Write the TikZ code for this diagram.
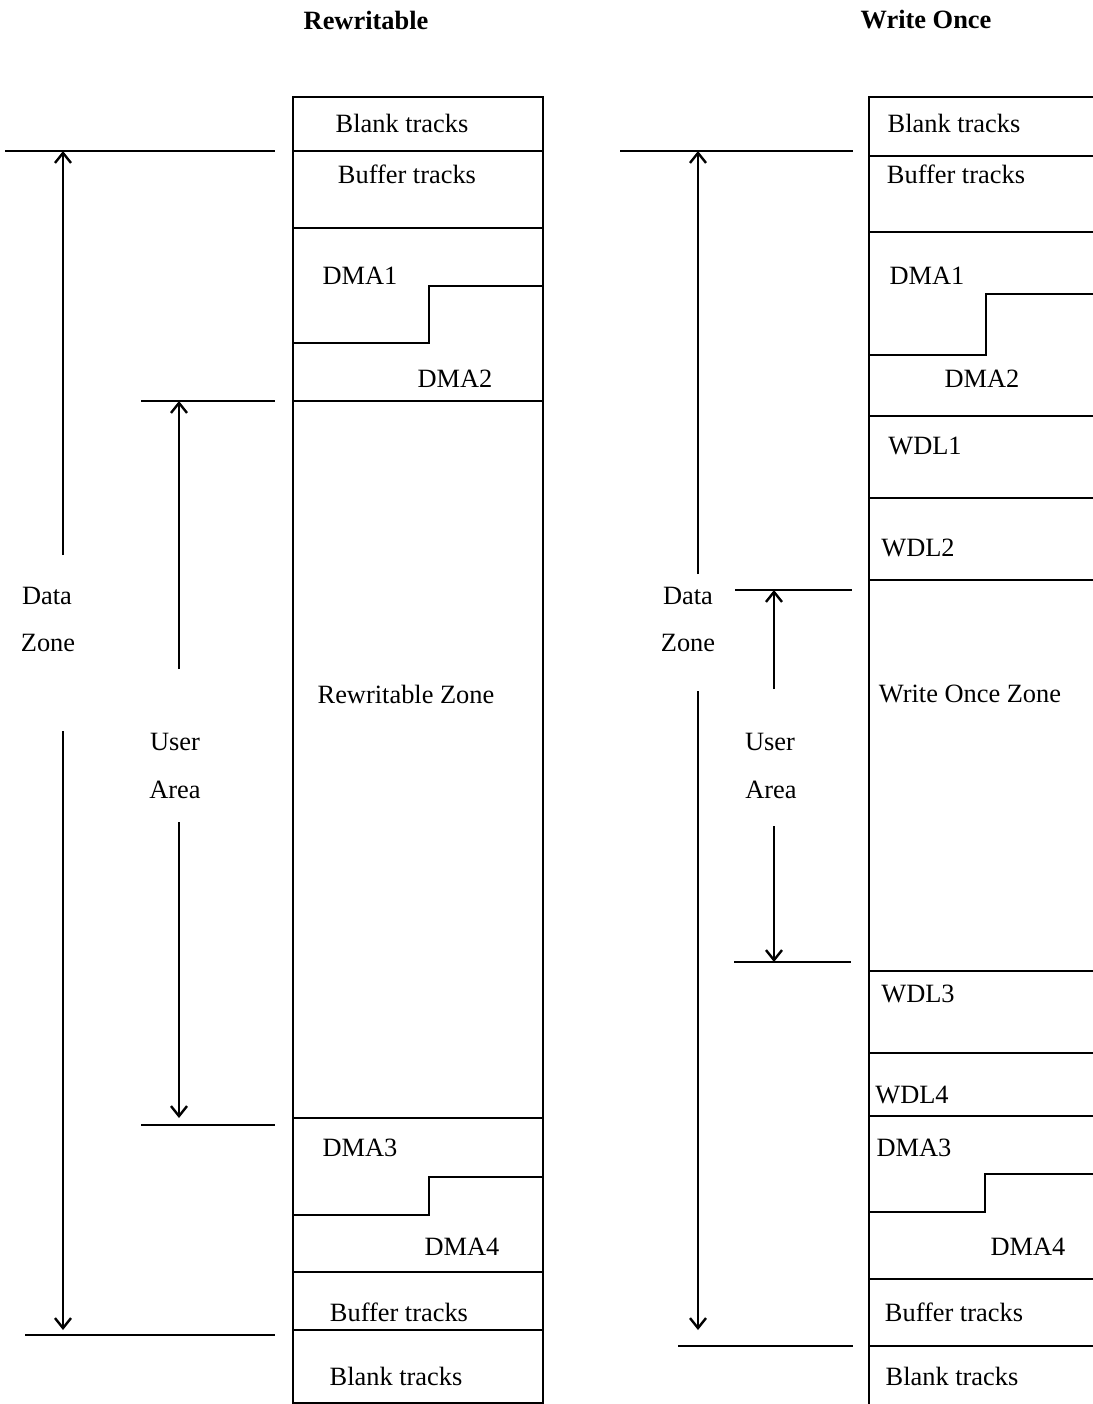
\documentclass[tikz,border=0pt]{standalone}
\usepackage{fontspec}
\setmainfont{Liberation Serif}
\usetikzlibrary{arrows.meta}

\begin{document}
\begin{tikzpicture}[
    x=0.5pt, y=-0.5pt,
    font=\fontsize{13.2}{16}\selectfont,
    lbl/.style={inner sep=0pt, anchor=center},
    title/.style={inner sep=0pt, anchor=center, font=\fontsize{13.2}{16}\selectfont\bfseries},
    zone/.style={draw, line width=1.2pt},
    divider/.style={line width=0.7pt},
    bound/.style={line width=1.3pt},
    tick/.style={line width=1.4pt},
    arrow/.style={line width=1.2pt,->,>={Straight Barb[length=5pt,width=8pt]}}
]
\useasboundingbox (0,0) rectangle (1093,1404);
\clip (0,0) rectangle (1093,1404);

% Titles
\node (titleA) [title] at (366,20) {Rewritable};
\node (titleB) [title] at (926,20) {Write Once};

% Rewritable column
\draw[zone] (293,97) rectangle (543,1403);
\foreach \y in {228,401,1118,1272} {\draw[divider] (293,\y) -- (543,\y);}
\foreach \y in {151,1330} {\draw[bound] (293,\y) -- (543,\y);}
\draw[divider] (293,343) -| (429,286) -- (543,286);
\draw[divider] (293,1215) -| (429,1177) -- (543,1177);

\node (blankA1) [lbl] at (402,123) {Blank tracks};
\node (bufA1) [lbl] at (407,174) {Buffer tracks};
\node (dmaA1) [lbl] at (360,276) {DMA1};
\node (dmaA2) [lbl] at (455,379) {DMA2};
\node (rwzone) [lbl] at (406,694) {Rewritable Zone};
\node (dmaA3) [lbl] at (360,1148) {DMA3};
\node (dmaA4) [lbl] at (462,1247) {DMA4};
\node (bufA2) [lbl] at (399,1312) {Buffer tracks};
\node (blankA2) [lbl] at (396,1376) {Blank tracks};

% Write Once column
\draw[zone] (869,97) rectangle (1120,1420);
\foreach \y in {232,416,498,580,971,1053,1346} {\draw[divider] (869,\y) -- (1093,\y);}
\foreach \y in {156,1116,1279} {\draw[bound] (869,\y) -- (1093,\y);}
\draw[divider] (869,355) -| (986,294) -- (1093,294);
\draw[divider] (869,1212) -| (985,1174) -- (1093,1174);

\node (blankB1) [lbl] at (954,123) {Blank tracks};
\node (bufB1) [lbl] at (956,174) {Buffer tracks};
\node (dmaB1) [lbl] at (927,276) {DMA1};
\node (dmaB2) [lbl] at (982,379) {DMA2};
\node (wdl1) [lbl] at (925,446) {WDL1};
\node (wdl2) [lbl] at (918,548) {WDL2};
\node (wozone) [lbl] at (970,694) {Write Once Zone};
\node (wdl3) [lbl] at (918,994) {WDL3};
\node (wdl4) [lbl] at (912,1095) {WDL4};
\node (dmaB3) [lbl] at (914,1148) {DMA3};
\node (dmaB4) [lbl] at (1028,1247) {DMA4};
\node (bufB2) [lbl] at (954,1312) {Buffer tracks};
\node (blankB2) [lbl] at (952,1376) {Blank tracks};

% Rewritable extents
\draw[tick] (5,151) -- (275,151);
\draw[tick] (141,401) -- (275,401);
\draw[tick] (141,1125) -- (275,1125);
\draw[tick] (25,1335) -- (275,1335);

\node (dataA) [lbl] at (47,596) {Data};
\node (dzoneA) [lbl] at (48,643) {Zone};
\node (userA) [lbl] at (175,742) {User};
\node (areaA) [lbl] at (175,790) {Area};

\coordinate (dzAtop) at (63,151);
\coordinate (dzAup) at (63,555);
\coordinate (dzAdn) at (63,731);
\coordinate (dzAbot) at (63,1330);
\coordinate (uaAtop) at (179,401);
\coordinate (uaAup) at (179,669);
\coordinate (uaAdn) at (179,822);
\coordinate (uaAbot) at (179,1118);

\draw [arrow] (dzAup) -- (dzAtop);
\draw [arrow] (dzAdn) -- (dzAbot);
\draw [arrow] (uaAup) -- (uaAtop);
\draw [arrow] (uaAdn) -- (uaAbot);

% Write Once extents
\draw[tick] (620,151) -- (853,151);
\draw[tick] (735,590) -- (852,590);
\draw[tick] (734,962) -- (851,962);
\draw[tick] (678,1346) -- (853,1346);

\node (dataB) [lbl] at (688,596) {Data};
\node (dzoneB) [lbl] at (688,643) {Zone};
\node (userB) [lbl] at (770,742) {User};
\node (areaB) [lbl] at (771,790) {Area};

\coordinate (dzBtop) at (698,151);
\coordinate (dzBup) at (698,574);
\coordinate (dzBdn) at (698,691);
\coordinate (dzBbot) at (698,1330);
\coordinate (uaBtop) at (774,590);
\coordinate (uaBup) at (774,689);
\coordinate (uaBdn) at (774,826);
\coordinate (uaBbot) at (774,962);

\draw [arrow] (dzBup) -- (dzBtop);
\draw [arrow] (dzBdn) -- (dzBbot);
\draw [arrow] (uaBup) -- (uaBtop);
\draw [arrow] (uaBdn) -- (uaBbot);

\end{tikzpicture}
\end{document}
